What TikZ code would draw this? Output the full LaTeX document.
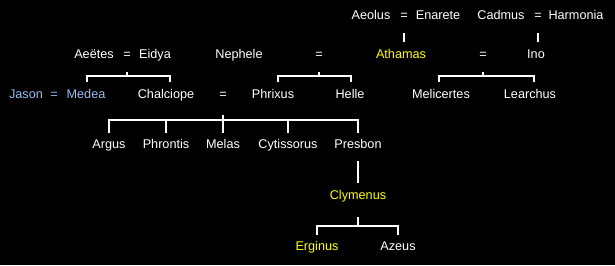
\documentclass[tikz,border=0pt]{standalone}
\usepackage{fontspec}
\setmainfont{Liberation Sans}
\usetikzlibrary{calc}

\definecolor{skyname}{RGB}{150,190,240}
\definecolor{goldname}{RGB}{255,255,0}

\begin{document}
\begin{tikzpicture}[x=0.75pt, y=0.75pt, font=\fontsize{9.5}{11}\selectfont,
    person/.style={text=white, inner sep=0pt, text height=7pt, text depth=2pt},
    wed/.style={person},
    hero/.style={person, text=goldname},
    argo/.style={person, text=skyname},
    kin/.style={draw=white, line width=1.5pt}]
  \fill[black] (0,0) rectangle (615,265);
  \useasboundingbox (0,0) rectangle (615,265);
  % ---------------- first row ----------------
  \node[person] (Aeolus)   at (371,249) {Aeolus};
  \node[wed]    (eqAE)     at (404,249) {=};
  \node[person] (Enarete)  at (438,249) {Enarete};
  \node[person] (Cadmus)   at (501,249) {Cadmus};
  \node[wed]    (eqCH)     at (538,249) {=};
  \node[person] (Harmonia) at (576,249) {Harmonia};
  % ---------------- second row ----------------
  \node[person] (Aeetes)  at (94,210)  {Aeëtes};
  \node[wed]    (eqAeE)   at (127,210) {=};
  \node[person] (Eidya)   at (155,210) {Eidya};
  \node[person] (Nephele) at (239,210) {Nephele};
  \node[wed]    (eqNA)    at (319,210) {=};
  \node[hero]   (Athamas) at (401,210) {Athamas};
  \node[wed]    (eqAI)    at (483,210) {=};
  \node[person] (Ino)     at (536,210) {Ino};
  % ---------------- third row ----------------
  \node[argo]   (Jason)      at (26,169.5)  {Jason};
  \node[argo]   (eqJM)       at (54,169.5)  {=};
  \node[argo]   (Medea)      at (86,169.5)  {Medea};
  \node[person] (Chalciope)  at (166,169.5) {Chalciope};
  \node[wed]    (eqCP)       at (223,169.5) {=};
  \node[person] (Phrixus)    at (273,169.5) {Phrixus};
  \node[person] (Helle)      at (350,169.5) {Helle};
  \node[person] (Melicertes) at (441,169.5) {Melicertes};
  \node[person] (Learchus)   at (530,169.5) {Learchus};
  % ---------------- sons of Phrixus ----------------
  \node[person] (Argus)      at (109,120) {Argus};
  \node[person] (Phrontis)   at (166,120) {Phrontis};
  \node[person] (Melas)      at (223,120) {Melas};
  \node[person] (Cytissorus) at (288,120) {Cytissorus};
  \node[person] (Presbon)    at (358,120) {Presbon};
  \node[hero]   (Clymenus)   at (358,69)  {Clymenus};
  \node[hero]   (Erginus)    at (317,18)  {Erginus};
  \node[person] (Azeus)      at (398,18)  {Azeus};
  % ---------------- lines of descent ----------------
  \draw[kin, shorten <=8.25pt, shorten >=5.25pt] (eqAE) -- (eqAE |- Athamas.north);
  \draw[kin, shorten <=8.25pt, shorten >=5.25pt] (eqCH) -- (eqCH |- Ino.north);
  \coordinate (bAeE) at ($(eqAeE)+(0,-21)$);
  \draw[kin, shorten <=8.25pt] (eqAeE) -- (bAeE);
  \draw[kin, shorten <=5.6pt, shorten >=5.6pt] ([xshift=0.75pt]Medea.north) |- (bAeE) -| ([xshift=3pt]Chalciope.north);
  \coordinate (bNA) at ($(eqNA)+(0,-21)$);
  \draw[kin, shorten <=8.25pt] (eqNA) -- (bNA);
  \draw[kin, shorten <=5.6pt, shorten >=5.6pt] ([xshift=3.75pt]Phrixus.north) |- (bNA) -| ([xshift=0.75pt]Helle.north);
  \coordinate (bAI) at ($(eqAI)+(0,-21)$);
  \draw[kin, shorten <=8.25pt] (eqAI) -- (bAI);
  \draw[kin, shorten <=5.6pt, shorten >=5.6pt] ([xshift=-1.5pt]Melicertes.north) |- (bAI) -| ([xshift=3pt]Learchus.north);
  \coordinate (bCP) at ($(eqCP)+(0,-24)$);
  \draw[kin, shorten <=9.75pt] (eqCP) -- (bCP);
  \draw[kin, shorten <=4.5pt, shorten >=4.5pt] (Argus.north) |- (bCP) -| (Presbon.north);
  \foreach \c in {Phrontis,Melas,Cytissorus}
    \draw[kin, shorten <=4.5pt] (\c.north) -- (\c.north |- bCP);
  \draw[kin, shorten <=7.5pt, shorten >=5.25pt] (Presbon.south) -- (Clymenus.north);
  \coordinate (bCl) at ($(Clymenus)+(0,-30)$);
  \draw[kin, shorten <=11.25pt] (Clymenus) -- (bCl);
  \draw[kin, shorten <=4.5pt, shorten >=4.5pt] (Erginus.north) |- (bCl) -| (Azeus.north);
\end{tikzpicture}
\end{document}
